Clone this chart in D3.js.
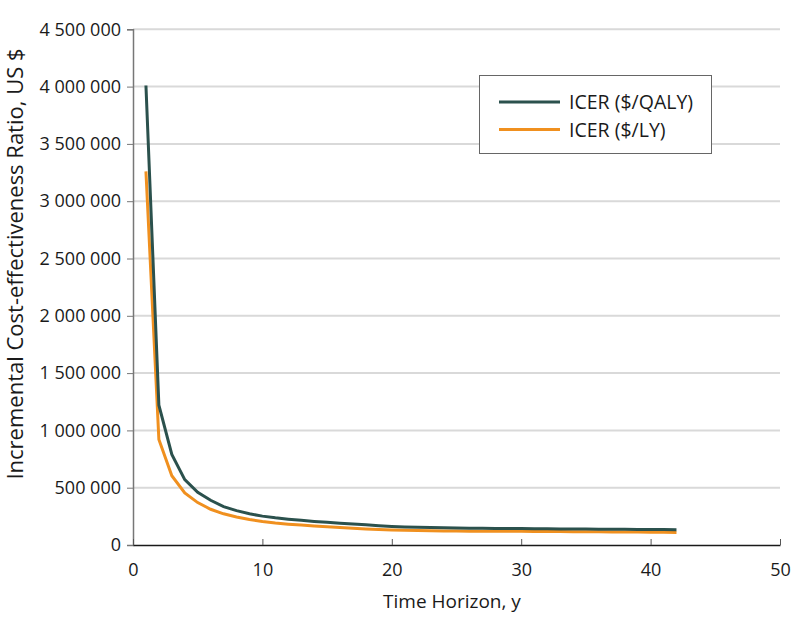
<!DOCTYPE html>
<html>
<head>
<meta charset="utf-8">
<script src="https://cdn.jsdelivr.net/npm/d3@7"></script>
<style>
  body { margin: 0; background: #fff; }
  svg text { font-family: "Open Sans", sans-serif; fill: #1a1a1a; }
</style>
</head>
<body>
<svg id="svg1" width="798" height="630"></svg>
<script>
// années de l'horizon temporel
var annees = d3.range(1, 43);

var icerQaly = [4010000, 1220000, 790000, 570000, 460000, 390000, 335000, 300000, 272000, 252000,
  237000, 225000, 215000, 206000, 198000, 190000, 183000, 176000, 168000, 162000,
  158000, 155000, 152000, 150000, 148000, 147000, 146000, 145000, 144000, 143000,
  142000, 141000, 140000, 139500, 139000, 138000, 137000, 136500, 136000, 135000,
  134500, 134000];

var icerLy = [3260000, 920000, 605000, 455000, 370000, 312000, 272000, 244000, 222000, 205000,
  192000, 182000, 174000, 166000, 159000, 152000, 146000, 140000, 135000, 131000,
  128000, 126000, 124000, 123000, 122000, 121000, 120500, 120000, 119500, 119000,
  118000, 117500, 117000, 116000, 115500, 115000, 114000, 113500, 113000, 112000,
  111000, 110000];

var series = ["ICER ($/QALY)", "ICER ($/LY)"];
var couleurs = ["#2b514d", "#f0901f"];
var ticksX = [0, 10, 20, 30, 40, 50];
var ticksY = d3.range(0, 4500001, 500000);

var svg = d3.select("#svg1");

var x = d3.scaleLinear().domain([0, 50]).range([133, 780]);
var y = d3.scaleLinear().domain([0, 4500000]).range([545, 29.3]);

var locale = d3.formatLocale({decimal: ".", thousands: "\u00a0", grouping: [3], currency: ["$", ""]});
var fmt = locale.format(",d");

// grille
svg.append("g")
  .selectAll("line")
  .data(ticksY.slice(1))
  .enter()
  .append("line")
  .attr("x1", x(0)).attr("x2", x(50))
  .attr("y1", d => y(d)).attr("y2", d => y(d))
  .style("stroke", "#d9d9d9")
  .style("stroke-width", 2);

// axe y
var axeY = svg.append("g")
  .attr("transform", "translate(" + x(0) + ",0)")
  .call(d3.axisLeft(y).tickValues(ticksY).tickFormat(fmt).tickSize(6).tickPadding(6));
axeY.select(".domain").style("stroke", "#777").style("stroke-width", 1.5);
axeY.selectAll(".tick line").style("stroke", "#777");
axeY.selectAll("text").style("font-size", "18px").style("fill", "#1a1a1a");

// axe x
var axeX = svg.append("g")
  .attr("transform", "translate(0," + y(0) + ")")
  .call(d3.axisBottom(x).tickValues(ticksX).tickSizeInner(-6).tickSizeOuter(0).tickPadding(18));
axeX.select(".domain").style("stroke", "#1a1a1a").style("stroke-width", 1.5);
axeX.selectAll(".tick line").style("stroke", "#555");
axeX.selectAll("text").style("font-size", "18px").style("fill", "#1a1a1a");

// courbes
var ligne = d3.line()
  .x((d, i) => x(annees[i]))
  .y(d => y(d));

svg.append("path")
  .datum(icerLy)
  .attr("d", ligne)
  .style("fill", "none")
  .style("stroke", couleurs[1])
  .style("stroke-width", 3);

svg.append("path")
  .datum(icerQaly)
  .attr("d", ligne)
  .style("fill", "none")
  .style("stroke", couleurs[0])
  .style("stroke-width", 3);

// titres des axes
svg.append("text")
  .attr("x", 452).attr("y", 608)
  .attr("text-anchor", "middle")
  .style("font-size", "19px")
  .text("Time Horizon, y");

svg.append("text")
  .attr("transform", "translate(23,264) rotate(-90)")
  .attr("text-anchor", "middle")
  .style("font-size", "22px")
  .text("Incremental Cost-effectiveness Ratio, US $");

// légende
var legende = svg.append("g");
legende.append("rect")
  .attr("x", 479.5).attr("y", 75.5)
  .attr("width", 232).attr("height", 78)
  .style("fill", "#fff")
  .style("stroke", "#666")
  .style("stroke-width", 1);

series.forEach(function(s, i) {
  var yy = 102 + i * 27.5;
  legende.append("line")
    .attr("x1", 499).attr("x2", 560)
    .attr("y1", yy).attr("y2", yy)
    .style("stroke", couleurs[i])
    .style("stroke-width", 3);
  legende.append("text")
    .attr("x", 569).attr("y", yy + 7)
    .style("font-size", "19.5px")
    .text(s);
});
</script>
</body>
</html>
